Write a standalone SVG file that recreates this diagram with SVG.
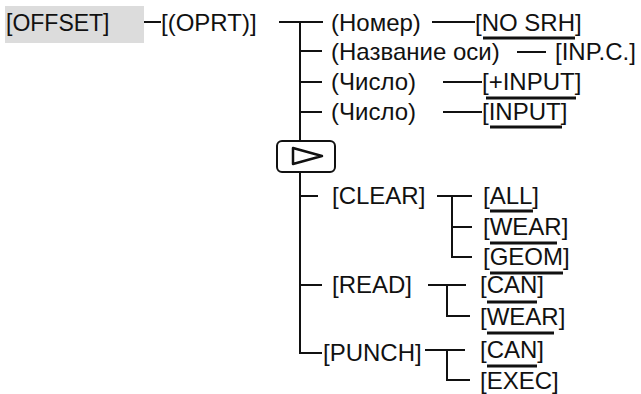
<svg xmlns="http://www.w3.org/2000/svg" width="641" height="394" viewBox="0 0 641 394">
<style>
text{font-family:"Liberation Sans",Arial,sans-serif;font-size:24px;fill:#111}
.c{stroke:#111;stroke-width:2;fill:none}
.u{stroke:#111;stroke-width:3}
</style>
<rect width="641" height="394" fill="#fff"/>
<g id="connectors">
<path class="c" d="M143 22H161"/>
<path class="c" d="M279 22H323M300 22V353H322M300 51H322M300 82H322M300 112H322M300 196H318M300 285H322"/>
<path class="c" d="M432 22H475M517 52H546M443 82H482M443 112H482"/>
<path class="c" d="M437 196H472M452 196V257H472M452 227H472"/>
<path class="c" d="M428 285H466M447 285V316H470"/>
<path class="c" d="M425 350H465M447 350V380H470"/>
</g>
<g id="offset"><rect x="5" y="6" width="139" height="37" fill="#dcdcdc"/><text x="6" y="31" style="font-size:23px">[OFFSET]</text></g>
<g id="oprt"><text x="161" y="31">[(OPRT)]</text></g>
<g id="nomer"><text x="331" y="31">(Номер)</text></g>
<g id="nosrh"><text x="475" y="31">[NO SRH]</text><path class="u" d="M483 38H575"/></g>
<g id="axis"><text x="331" y="60">(Название оси)</text></g>
<g id="inpc"><text x="555" y="60">[INP.C.]</text></g>
<g id="num1"><text x="331" y="90">(Число)</text></g>
<g id="pinput"><text x="482" y="90">[+INPUT]</text><path class="u" d="M486 98H576"/></g>
<g id="num2"><text x="331" y="120">(Число)</text></g>
<g id="input"><text x="482" y="120">[INPUT]</text><path class="u" d="M490 127H562"/></g>
<g id="next"><rect x="277" y="141" width="58" height="31" rx="5" fill="#fff" stroke="#111" stroke-width="2"/><polygon points="293,148 293,164 322,156" fill="none" stroke="#111" stroke-width="2.5" stroke-linejoin="round"/></g>
<g id="clear"><text x="332" y="204">[CLEAR]</text></g>
<g id="all"><text x="483" y="204">[ALL]</text><path class="u" d="M490 211H533"/></g>
<g id="wear1"><text x="483" y="235">[WEAR]</text><path class="u" d="M490 243H557"/></g>
<g id="geom"><text x="483" y="265">[GEOM]</text><path class="u" d="M490 273H563"/></g>
<g id="read"><text x="332" y="293">[READ]</text></g>
<g id="can1"><text x="480" y="293">[CAN]</text><path class="u" d="M487 302H537"/></g>
<g id="wear2"><text x="480" y="325">[WEAR]</text><path class="u" d="M487 333H554"/></g>
<g id="punch"><text x="323" y="361">[PUNCH]</text></g>
<g id="can2"><text x="480" y="358">[CAN]</text><path class="u" d="M487 366H537"/></g>
<g id="exec"><text x="480" y="389">[EXEC]</text></g>
</svg>
